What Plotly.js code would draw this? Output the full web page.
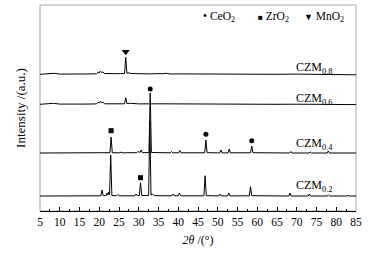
<!DOCTYPE html>
<html>
<head>
<meta charset="utf-8">
<script src="https://cdn.plot.ly/plotly-3.0.1.min.js"></script>
<style>html,body{margin:0;padding:0;background:#fff;}#chart{width:368px;height:253px;}</style>
</head>
<body>
<div id="chart"></div>
<script>
// ---- data (2θ in degrees, intensity in a.u.) ----
const seriesNames = ["CZM<sub>0.2</sub>", "CZM<sub>0.4</sub>", "CZM<sub>0.6</sub>", "CZM<sub>0.8</sub>"];
const offsets = [15, 58, 106.7, 136.7];

const x02 = [5,10,15,20.4,20.7,21.0,21.8,22.0,22.2,22.4,22.6,22.9,23.2,24.4,24.7,25.0,29.0,29.3,29.6,30.15,30.45,30.75,32.5,32.8,33.1,33.5,33.9,38.4,38.7,39.0,40.0,40.3,40.6,46.5,46.8,47.1,50.3,50.6,50.9,52.5,52.8,53.1,58.0,58.3,58.6,68.0,68.3,68.6,72.9,73.2,73.5,77.7,78.0,78.3,82.7,83.0,83.3,85];
const y02 = [0,0,0,0.2,6,0.3,0.5,3,1,4,1,41,0.5,0.2,1.5,0.2,0.2,2,0.4,0.5,13.3,0.5,0.5,75,0.8,2,0.3,0.2,2,0.2,0.2,3,0.2,0.2,20.3,0.3,0.1,2,0.1,0.1,3,0.1,0.2,9.3,0.3,0,3,0,0,2,0,0,1,0,0,0.5,0,0];

const x04 = [5,10,15,20,22.7,23.0,23.3,25.2,25.5,25.8,29.5,29.8,30.1,30.3,30.6,30.9,32.6,32.9,33.2,38.0,38.3,38.6,40.1,40.4,40.7,46.7,47.0,47.3,50.5,50.8,51.1,52.6,52.9,53.2,58.3,58.6,58.9,68.2,68.5,68.8,73.1,73.4,73.7,77.7,78.0,78.3,85];
const y04 = [0,0,0,0.2,0.3,16,0.3,0.2,1,0.2,0.3,1.5,0.4,0.5,3,0.4,0.4,60,0.5,0.2,1.5,0.2,0.2,2.5,0.2,0.2,13,0.3,0.1,3,0.1,0.1,4,0.2,0.2,7,0.3,0,1.5,0,0,1,0,0,2,0,0];

const x06 = [5,7,8.4,10,13,16,19.3,19.7,20.0,20.3,20.6,21.0,21.4,23,26.4,26.7,27.0,28,29,30,35,40,45,50,55,60,65,70,75,80,85];
const y06 = [0,0.3,1,0.2,0,0.2,0.4,2,1.3,3,1.5,2,0.5,0.3,0.5,6.6,0.8,1,0.6,0.4,0.5,0.3,0.2,0.2,0,0.2,0,0.1,0,-0.2,-0.3];

const x08 = [5,7,8.6,10,13,16,19.3,19.7,20.0,20.2,20.5,20.9,21.3,23,25,26.4,26.7,27.0,27.5,28,30,33,35,36,37,38,40,45,50,55,60,65,70,75,80,85];
const y08 = [0,0.3,1,0.2,0,0.3,0.5,2,1.5,3,1.8,2.5,0.8,0.5,0.6,0.8,17,1.2,1.5,0.8,0.5,0.4,0.8,0.5,1,0.3,0.4,0.2,0.3,0,0.2,0,0.2,0,-0.3,-0.5];

// phase markers (2θ, stacked intensity position)
const ceo2X = [32.9, 47.0, 58.6];
const ceo2Y = [122, 76.7, 70.3];
const zro2X = [23.0, 30.45];
const zro2Y = [80.3, 33.3];
const mno2X = [26.7];
const mno2Y = [159.3];

const phaseNames = ["CeO<sub>2</sub>", "ZrO<sub>2</sub>", "MnO<sub>2</sub>"];
const xTicks = [5,10,15,20,25,30,35,40,45,50,55,60,65,70,75,80,85];

// ---- build traces ----
const xs = [x02, x04, x06, x08];
const ys = [y02, y04, y06, y08];
const traces = xs.map((xv, i) => ({
  x: xv,
  y: ys[i].map(v => v + offsets[i]),
  type: "scatter", mode: "lines",
  line: {color: "#000", width: 1},
  hoverinfo: "skip"
}));
traces.push({x: ceo2X, y: ceo2Y, type: "scatter", mode: "markers",
  marker: {symbol: "circle", size: 5, color: "#000"}});
traces.push({x: zro2X, y: zro2Y, type: "scatter", mode: "markers",
  marker: {symbol: "square", size: 5, color: "#000"}});
traces.push({x: mno2X, y: mno2Y, type: "scatter", mode: "markers",
  marker: {symbol: "triangle-down", size: 7, color: "#000"}});

const serif = "'Liberation Serif', 'Times New Roman', serif";
const labelY = [25, 67.5, 112.5, 143];
const annotations = seriesNames.map((t, i) => ({
  text: t, x: 69.3, y: labelY[i], xref: "x", yref: "y",
  xanchor: "left", yanchor: "middle", showarrow: false,
  font: {family: serif, size: 12, color: "#000"}
}));
const legendSyms = ["•", "<span style='font-size:8px'>■</span>", "<span style='font-size:9px'>▼</span>"];
const legendX = [45.8, 59.7, 71.3];
phaseNames.forEach((t, i) => annotations.push({
  text: legendSyms[i] + " " + t, x: legendX[i], y: 194, xref: "x", yref: "y",
  xanchor: "left", yanchor: "middle", showarrow: false,
  font: {family: serif, size: 11.5, color: "#000"}
}));

const layout = {
  width: 368, height: 253,
  margin: {l: 40, r: 12, t: 5, b: 42},
  paper_bgcolor: "#fff", plot_bgcolor: "#fff",
  showlegend: false,
  font: {family: serif, color: "#000"},
  xaxis: {
    range: [5, 85], tickvals: xTicks, ticktext: xTicks.map(String),
    ticks: "inside", ticklen: 4, tickcolor: "#000", tickwidth: 1,
    minor: {ticks: "inside", ticklen: 2, dtick: 2.5, tick0: 5, tickcolor: "#000"},
    showline: true, linecolor: "#000", linewidth: 1,
    showgrid: false, zeroline: false,
    tickfont: {family: serif, size: 11.5, color: "#000"},
    title: {text: "<i>2θ</i> /(°)", font: {family: serif, size: 12, color: "#000"}, standoff: 8}
  },
  yaxis: {
    range: [0, 206], showticklabels: false, ticks: "",
    showgrid: false, zeroline: false, showline: false,
    title: {text: "Intensity /(a.u.)", font: {family: serif, size: 13, color: "#000"}, standoff: 10}
  },
  shapes: [{type: "rect", xref: "paper", yref: "paper", x0: 0, x1: 1, y0: 0, y1: 1,
    line: {color: "#a8a8a8", width: 1}, layer: "below"}],
  annotations: annotations
};
Plotly.newPlot("chart", traces, layout, {displayModeBar: false});
</script>
</body>
</html>
